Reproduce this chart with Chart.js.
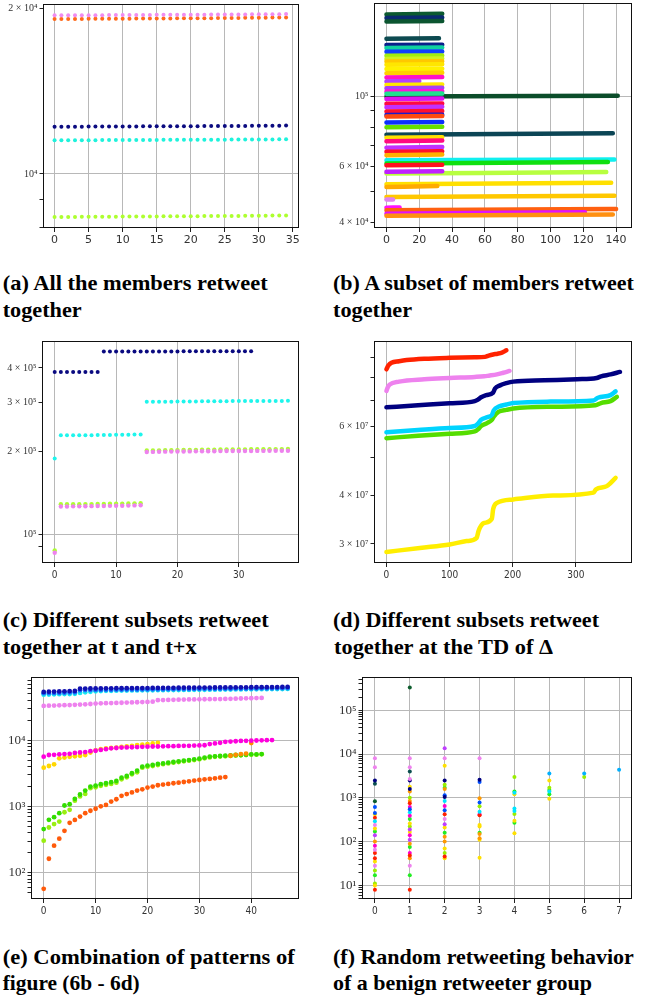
<!DOCTYPE html>
<html><head><meta charset="utf-8">
<script src="https://cdn.jsdelivr.net/npm/chart.js@4.4.1/dist/chart.umd.min.js"></script>
<style>
html,body{margin:0;padding:0;background:#fff;}
#wrap{position:relative;width:650px;height:997px;overflow:hidden;background:#fff;}
canvas{position:absolute;}
svg{position:absolute;left:0;top:0;}
.cap{font-family:'Liberation Serif','DejaVu Serif',serif;font-weight:bold;font-size:22px;fill:#000;}
</style></head><body><div id="wrap">
<svg width="650" height="997">
<text class="cap" x="2.7" y="290" textLength="265" lengthAdjust="spacingAndGlyphs">(a) All the members retweet</text>
<text class="cap" x="2.7" y="316.5" textLength="79" lengthAdjust="spacingAndGlyphs">together</text>
<text class="cap" x="333" y="290">(b) A subset of members retweet</text>
<text class="cap" x="333" y="316.5" textLength="79" lengthAdjust="spacingAndGlyphs">together</text>
<text class="cap" x="2.7" y="626.5" textLength="266" lengthAdjust="spacingAndGlyphs">(c) Different subsets retweet</text>
<text class="cap" x="2.7" y="654" textLength="194" lengthAdjust="spacingAndGlyphs">together at t and t+x</text>
<text class="cap" x="333" y="626.5" textLength="266" lengthAdjust="spacingAndGlyphs">(d) Different subsets retweet</text>
<text class="cap" x="334" y="654" textLength="219" lengthAdjust="spacingAndGlyphs">together at the TD of Δ</text>
<text class="cap" x="2.7" y="964" textLength="292" lengthAdjust="spacingAndGlyphs">(e) Combination of patterns of</text>
<text class="cap" x="2.7" y="990" textLength="137" lengthAdjust="spacingAndGlyphs">figure (6b - 6d)</text>
<text class="cap" x="333" y="964">(f) Random retweeting behavior</text>
<text class="cap" x="333" y="990">of a benign retweeter group</text>
</svg>
<canvas id="ca"></canvas><canvas id="cb"></canvas>
<canvas id="cc"></canvas><canvas id="cd"></canvas>
<canvas id="ce"></canvas><canvas id="cf"></canvas>
</div>
<script>
// ---------- Panel (a) data ----------
const aXTicks = [0,5,10,15,20,25,30,35];
const aYTickValues = [8000, 9000, 10000, 20000];
const aYTickLabels = ['', '', '10⁴', '2 × 10⁴'];
const aYGrid = [10000];
const aViolet = [19400,19400,19405,19405,19410,19410,19415,19415,19420,19420,19425,19425,19430,19430,19435,19440,19440,19445,19445,19450,19450,19455,19455,19460,19460,19465,19470,19470,19475,19480,19480,19485,19490,19495,19500];
const aOrange = [19100,19100,19105,19110,19110,19115,19115,19120,19120,19125,19130,19130,19135,19140,19140,19145,19150,19150,19155,19160,19160,19165,19170,19170,19175,19180,19185,19190,19195,19200,19205,19210,19215,19220,19230];
const aNavy = [12180,12182,12184,12185,12187,12188,12190,12191,12193,12194,12196,12197,12199,12200,12202,12203,12205,12206,12208,12209,12211,12212,12214,12215,12217,12218,12220,12222,12224,12226,12228,12230,12233,12236,12240];
const aCyan = [11510,11511,11512,11514,11515,11516,11518,11519,11520,11522,11523,11524,11526,11527,11528,11530,11531,11532,11534,11535,11536,11538,11539,11540,11542,11543,11545,11546,11548,11549,11551,11553,11555,11557,11560];
const aLime = [8354,8355,8357,8358,8360,8361,8363,8364,8366,8367,8369,8370,8372,8373,8375,8376,8378,8379,8381,8382,8384,8385,8387,8388,8390,8391,8393,8394,8396,8398,8400,8402,8404,8407,8410];

// ---------- Panel (b) data: value at x=0, value at last x, last x ----------
const bXTicks = [0,20,40,60,80,100,120,140];
const bYTickValues = [40000,50000,60000,70000,80000,90000,100000];
const bYTickLabels = ['4 × 10⁴','','6 × 10⁴','','','','10⁵'];
const bYGrid = [100000];
const bFirst = [100000,182000,177600,172900,152600,145700,142600,138800,134700,131500,129200,126100,122200,118600,114900,111600,108900,106300,103700,102000,98300,94800,92500,89600,87400,86400,82700,79900,75700,74000,72200,68800,66800,65200,62800,61300,60600,57000,57700,52700,51700,48000,47200,44400,43600,42500,41900];
const bLast  = [100500,183000,178000,173500,153000,146000,143000,139000,135000,132000,129500,126500,122600,119000,115300,112000,109300,106700,104000,102300,98600,95100,92800,90000,87600,86700,83000,80200,76500,74300,72500,69200,67100,65500,63200,62000,60800,57600,58000,53300,52000,48500,47200,44500,44000,43000,42300];
const bLastX = [141,34,34,34,32,34,34,34,34,34,34,34,34,34,34,20,34,34,34,34,34,34,34,34,34,34,34,34,138,34,34,34,34,34,139,135,34,134,34,137,31,139,4,8,140,121,138];
const bColors = ['#0b4d2a','#0c5a30','#0a2a70','#0b5530','#0d4a50','#0a1f8a','#10d0a0','#1040ff','#a0ee10','#d0f020','#ffc800','#ffe600','#fff000','#ffd000','#ff10c8','#b040ff','#ffe800','#a840f8','#ff10d8','#20e090','#e010f0','#ff0a40','#c030ff','#ff1030','#1a1ad0','#ff4a10','#0a30ff','#66e000','#0b4555','#ffe000','#ff0a80','#c030ff','#ff1028','#ffb000','#10f0f0','#10e010','#ff1020','#b8ff40','#c020ff','#ffe000','#ffaa00','#ffc800','#e080f0','#ff10ff','#ff6010','#e010ff','#ff9010'];

// ---------- Panel (c) data ----------
const cXTicks = [0,10,20,30];
const cYTickValues = [90000,100000,200000,300000,400000];
const cYTickLabels = ['','10⁵','2 × 10⁵','3 × 10⁵','4 × 10⁵'];
const cYGrid = [100000];
const cNavy = [387000,387000,387000,387000,387000,387000,387000,387000,459000,459000,459000,459000,459000,459000,459000,459000,459000,459000,459000,459000,459000,460000,460000,460000,460000,460000,460000,460000,460000,460000,460000,460000,460000];
const cCyan = [188000,228000,228000,228000,228000,228000,228000,228500,228500,228500,229000,229000,229000,229500,229500,302000,302000,302000,302000,302000,302500,302500,302500,302500,303000,303000,303000,303000,303000,303500,303500,303500,303500,304000,304000,304000,304000,304000,304500];
const cLime = [87300,128300,128300,128400,128400,128500,128500,128600,128700,128800,128900,129000,129100,129300,129500,201000,201000,201200,201300,201500,201600,201800,201900,202000,202200,202300,202400,202500,202600,202700,202800,202900,203000,203000,203100,203200,203300,203300,203400];
const cViolet = [85600,126000,126000,126100,126100,126200,126300,126400,126500,126600,126700,126800,126900,127100,127300,198500,198600,198800,199000,199100,199200,199300,199400,199500,199600,199700,199800,199900,200000,200000,200100,200200,200200,200300,200300,200400,200400,200500,200500];

// ---------- Panel (d) data: [x, value] ----------
const dXTicks = [0,100,200,300];
const dYTickValues = [30000000,40000000,50000000,60000000,70000000,80000000,90000000];
const dYTickLabels = ['3 × 10⁷','4 × 10⁷','','6 × 10⁷','','',''];
const dYGrid = [];
const dYellow = [[0,2.86e7],[53,2.93e7],[100,2.99e7],[127,3.05e7],[143,3.11e7],[146,3.24e7],[154,3.39e7],[167,3.48e7],[169,3.68e7],[175,3.82e7],[201,3.9e7],[264,3.99e7],[328,4.06e7],[332,4.14e7],[349,4.22e7],[363,4.43e7]];
const dGreen = [[0,5.6e7],[50,5.68e7],[100,5.75e7],[140,5.83e7],[145,5.9e7],[150,6.02e7],[160,6.13e7],[167,6.24e7],[170,6.36e7],[178,6.55e7],[190,6.62e7],[201,6.67e7],[260,6.74e7],[331,6.8e7],[340,6.89e7],[355,6.97e7],[365,7.15e7]];
const dCyan = [[0,5.8e7],[50,5.88e7],[100,5.95e7],[140,6.02e7],[145,6.1e7],[150,6.24e7],[160,6.34e7],[167,6.42e7],[170,6.6e7],[178,6.75e7],[190,6.83e7],[201,6.89e7],[260,6.95e7],[328,7.0e7],[335,7.11e7],[355,7.22e7],[363,7.38e7]];
const dNavy = [[0,6.72e7],[50,6.8e7],[100,6.88e7],[140,6.97e7],[145,7.03e7],[150,7.13e7],[158,7.22e7],[169,7.33e7],[172,7.51e7],[180,7.65e7],[190,7.75e7],[201,7.82e7],[250,7.88e7],[302,7.93e7],[333,7.99e7],[340,8.07e7],[355,8.16e7],[370,8.28e7]];
const dViolet = [[0,7.4e7],[2,7.55e7],[5,7.68e7],[20,7.82e7],[60,7.93e7],[100,7.99e7],[140,8.04e7],[155,8.07e7],[162,8.1e7],[175,8.16e7],[185,8.24e7],[195,8.33e7]];
const dRed = [[0,8.41e7],[3,8.6e7],[8,8.74e7],[20,8.82e7],[32,8.88e7],[60,8.95e7],[100,9.0e7],[140,9.03e7],[156,9.05e7],[162,9.12e7],[169,9.18e7],[176,9.22e7],[183,9.28e7],[190,9.41e7]];

// ---------- Panel (e) data ----------
const eXTicks = [0,10,20,30,40];
const eYTickValues = [50,60,70,80,90,100,200,300,400,500,600,700,800,900,1000,2000,3000,4000,5000,6000,7000,8000,9000,10000,20000,30000,40000,50000,60000,70000,80000];
const eYTickLabels = ['','','','','','10²','','','','','','','','','10³','','','','','','','','','10⁴','','','','','','',''];
const eYGrid = [100,1000,10000];
const eOrangeRed = [57,162,255,325,428,565,625,700,790,858,920,1000,1050,1180,1280,1440,1530,1620,1730,1810,1920,1990,2080,2130,2180,2230,2280,2330,2390,2450,2500,2560,2590,2650,2710,2770];
const eLime = [303,480,540,590,815,885,1220,1410,1540,1880,1940,2040,2110,2180,2280,2560,2750,3050,3260,3840,3970,4060,4200,4330,4450,4560,4670,4780,4890,5000,5120,5300,5480,5600,5650,5700,5760,5820,5880,5950,6020,6020,6090];
const eGreen = [454,626,686,790,1030,1080,1300,1510,1730,1990,2060,2160,2230,2320,2420,2710,2870,3160,3460,3970,4120,4210,4360,4450,4560,4670,4780,4890,5000,5120,5240,5420,5620,5690,5750,5820,5890,5950,5950,6020,6090,6090,6160];
const eOrangeX = [36,37,38,39,40];
const eOrange = [5800,6000,6150,6250,9000];
const eGold = [3840,4060,4300,5300,5450,5600,5700,5800,5950,6500,7000,7300,7500,7600,7700,7900,8000,8200,8400,8500,8700,8900,9100];
const eMagenta = [5620,5950,6000,6100,6150,6200,6400,6500,6600,6800,6900,7100,7300,7500,7600,7700,7750,7800,7850,7900,7950,8000,8000,8050,8100,8100,8150,8200,8200,8250,8300,8350,8700,8900,9100,9400,9500,9600,9700,9750,9800,9850,9900,9950,10000];
const eViolet = [32800,33000,33200,33400,33600,33800,34000,34300,34600,35000,35600,35800,36000,36200,36400,36600,36800,37000,37200,37400,37700,38000,40000,40200,40400,40500,40700,40800,41000,41100,41200,41300,41400,41500,41600,41800,42000,42200,42400,42600,42800,43000,43300];
const eCyan = [48500,48700,49000,49200,49400,49600,49800,51500,52500,53500,54500,55000,55300,55500,55700,55800,56000,56100,56200,56300,56400,56500,56600,56700,56800,56900,57000,57100,57200,57300,57400,57500,57600,57700,57800,57900,58000,58100,58200,58300,58400,58500,58600,58700,58800,58900,59000,59200];
const eBlue = [51000,51300,51500,51700,52000,52300,52600,56500,56800,57000,57100,57200,57400,57500,57600,57700,57800,57900,58000,58100,58200,58300,58400,58500,58600,58700,58800,58900,59000,59100,59200,59300,59400,59500,59600,59600,59700,59800,59900,60000,60100,60200,60300,60400,60500,60600,60700,60900];
const eNavy = [53300,53800,54000,54200,54500,54800,55200,59500,59800,60000,60100,60100,60300,60400,60500,60500,60700,60800,60900,61000,61000,61200,61300,61300,61400,61500,61600,61700,61700,61800,61900,62000,62000,62100,62200,62300,62300,62400,62500,62600,62700,62700,62800,62900,63000,63100,63200,63400];

// ---------- Panel (f) data: [x, value] by colour group ----------
const fXTicks = [0,1,2,3,4,5,6,7];
const fYTickValues = [5,6,7,8,9,10,20,30,40,50,60,70,80,90,100,200,300,400,500,600,700,800,900,1000,2000,3000,4000,5000,6000,7000,8000,9000,10000,20000,30000,40000,50000,60000,70000,80000,90000,100000,200000,300000,400000,500000];
const fYTickLabels = ['','','','','','10¹','','','','','','','','','10²','','','','','','','','','10³','','','','','','','','','10⁴','','','','','','','','','10⁵','','','',''];
const fYGrid = [10,100,1000,10000,100000];
const fViolet = [[0,8000],[0,5000],[0,240],[0,65],[0,28],[1,8000],[1,5000],[1,2700],[1,28],[2,8000],[2,330],[3,8000]];
const fPurple = [[0,140],[1,190],[1,110],[2,13500],[2,250]];
const fNavy = [[0,2500],[1,2500],[1,1600],[2,2500],[2,1050],[3,2600]];
const fDarkTeal = [[0,2100],[1,4000]];
const fDarkGreen = [[0,830],[1,330000]];
const fBlue = [[0,620],[0,450],[1,550],[2,1150],[2,520],[3,2300],[3,780]];
const fSky = [[5,3600],[6,3600],[7,4400]];
const fCyan = [[0,290],[1,470],[2,850],[3,480],[4,1300],[4,570],[4,500],[5,1400]];
const fRed = [[0,350],[0,55],[0,42],[0,8],[1,750],[1,48],[1,8],[2,420],[2,46],[3,400]];
const fMagenta = [[0,80],[1,620],[1,390],[1,140],[1,55],[2,650],[3,420]];
const fOrange = [[0,100],[1,1400],[1,850],[1,90],[1,42],[2,1600],[2,130],[2,100],[3,980],[3,150],[3,120]];
const fYellow = [[0,420],[0,200],[0,35],[0,10],[1,1800],[1,260],[1,165],[2,5400],[2,210],[2,70],[2,42],[3,240],[3,220],[3,110],[3,43],[4,1200],[4,300],[4,155],[5,2500],[5,950]];
const fLime = [[0,22],[0,11],[1,1000],[1,220],[2,2000],[2,55],[3,640],[4,3000],[4,430],[5,1700],[6,3000]];
const fGreen = [[0,170],[0,17],[1,330],[1,75],[1,17],[2,1700],[2,160],[3,160],[4,1400],[4,270],[5,1500],[5,1200]];

// ---------- helpers ----------
const seqPts = (ys, x0) => ys.map((y, i) => ({x: (x0 || 0) + i, y}));
const pairPts = arr => arr.map(p => ({x: p[0], y: p[1]}));
const zipPts = (xs, ys) => xs.map((x, i) => ({x, y: ys[i]}));
const dots = (pts, color, r) => ({data: pts, showLine: false, pointRadius: r, pointHoverRadius: r,
  pointBackgroundColor: color, pointBorderWidth: 0, backgroundColor: color});
const line = (pts, color, w) => ({data: pts, showLine: true, borderColor: color, borderWidth: w,
  pointRadius: 0, pointHoverRadius: 0, borderCapStyle: 'round', borderJoinStyle: 'round',
  cubicInterpolationMode: 'monotone'});

const frame = {id: 'frame', afterDraw(ch) {
  const a = ch.chartArea, c = ch.ctx;
  c.save(); c.strokeStyle = '#111'; c.lineWidth = 1;
  c.strokeRect(Math.round(a.left) + 0.5, Math.round(a.top) + 0.5,
    Math.round(a.right - a.left) - 1, Math.round(a.bottom - a.top) - 1);
  c.restore();
}};

const FX_A = {family: "'DejaVu Sans', sans-serif", size: 11};
const FX_N = {family: "'Liberation Sans Narrow','DejaVu Sans Condensed','Liberation Sans',sans-serif", size: 10};
const FY_S = {family: "'Liberation Serif','DejaVu Serif',serif", size: 10};
const FY_L = {family: "'Liberation Serif','DejaVu Serif',serif", size: 13};

function panel(id, box, yW, xH, xMin, xMax, xTicks, xFont, yMin, yMax, yVals, yLabs, yGrid, yFont, datasets) {
  const pt = 3, pr = 3;
  const cv = document.getElementById(id);
  const W = yW + (box.r - box.l) + pr, H = pt + (box.b - box.t) + xH;
  cv.width = W; cv.height = H;
  cv.style.left = (box.l - yW) + 'px'; cv.style.top = (box.t - pt) + 'px';
  cv.style.width = W + 'px'; cv.style.height = H + 'px';
  datasets.forEach((d, i) => { d.order = -i; });
  const gridCol = c => (c.tick && c.tick.g) ? '#b8b8b8' : 'rgba(0,0,0,0)';
  new Chart(cv, {
    type: 'scatter',
    data: {datasets},
    options: {
      responsive: false, animation: false, devicePixelRatio: 1,
      layout: {autoPadding: false, padding: {top: pt, right: pr, left: 0, bottom: 0}},
      plugins: {legend: {display: false}, tooltip: {enabled: false}},
      scales: {
        x: {type: 'linear', min: xMin, max: xMax, bounds: 'data',
          border: {display: false},
          grid: {color: gridCol, lineWidth: 1, tickColor: '#222', tickLength: 4, drawTicks: true},
          ticks: {font: xFont, color: '#333', padding: 2, autoSkip: false, maxRotation: 0,
            callback: (v, i, t) => t[i].lab || ''},
          afterBuildTicks: s => { s.ticks = xTicks.map(v => ({value: v, g: true, lab: String(v)})); },
          afterFit: s => { s.height = xH; s.paddingLeft = 0; s.paddingRight = 0; }
        },
        y: {type: 'logarithmic', min: yMin, max: yMax, bounds: 'data',
          border: {display: false},
          grid: {color: gridCol, lineWidth: 1, tickColor: '#222', tickLength: 3.5, drawTicks: true},
          ticks: {font: yFont, color: '#333', padding: 2, autoSkip: false,
            callback: (v, i, t) => t[i].lab || ''},
          afterBuildTicks: s => { s.ticks = yVals.map((v, i) => ({value: v, g: yGrid.includes(v), lab: yLabs[i]})); },
          afterFit: s => { s.width = yW; s.paddingTop = 0; s.paddingBottom = 0; }
        }
      }
    },
    plugins: [frame]
  });
}

// (a)
panel('ca', {l: 43, r: 299, t: 4, b: 228}, 43, 22, -1.7, 35.9, aXTicks, FX_A, 7980, 20340,
  aYTickValues, aYTickLabels, aYGrid, FY_S, [
    dots(seqPts(aLime), '#adff2f', 2),
    dots(seqPts(aCyan), '#1ef2dc', 2),
    dots(seqPts(aNavy), '#0b0b80', 2),
    dots(seqPts(aOrange), '#ff6a1a', 2),
    dots(seqPts(aViolet), '#f08cf0', 2)
  ]);

// (b)
panel('cb', {l: 374, r: 632, t: 3, b: 228}, 44, 22, -7.6, 149.7, bXTicks, FX_A, 38300, 198000,
  bYTickValues, bYTickLabels, bYGrid, FY_S,
  bFirst.map((v, i) => line([{x: 0, y: v}, {x: bLastX[i], y: bLast[i]}], bColors[i], 4.5)));

// (c)
panel('cc', {l: 42, r: 299, t: 341, b: 563}, 42, 22, -2.07, 39.8, cXTicks, FX_N, 78600, 501000,
  cYTickValues, cYTickLabels, cYGrid, FY_S, [
    dots(seqPts(cNavy), '#0a0a80', 2),
    dots(seqPts(cCyan), '#1ef5ec', 2),
    dots(seqPts(cLime), '#adff2f', 2.2),
    dots(seqPts(cViolet), '#ee82ee', 2.2)
  ]);

// (d)
panel('cd', {l: 374, r: 632, t: 341, b: 563}, 44, 22, -19.7, 389, dXTicks, FX_N, 2.68e7, 9.94e7,
  dYTickValues, dYTickLabels, dYGrid, FY_S, [
    line(pairPts(dYellow), '#ffee00', 4.5),
    line(pairPts(dGreen), '#55dd00', 4.5),
    line(pairPts(dCyan), '#00d4ff', 4.5),
    line(pairPts(dNavy), '#000080', 4.5),
    line(pairPts(dViolet), '#ee82ee', 4.5),
    line(pairPts(dRed), '#ff2200', 4.5)
  ]);

// (e)
panel('ce', {l: 31, r: 299, t: 677, b: 899}, 31, 22, -2.45, 49.2, eXTicks, FX_N, 40, 89500,
  eYTickValues, eYTickLabels, eYGrid, FY_L, [
    dots(seqPts(eOrangeRed), '#ff5a0a', 2.4),
    dots(seqPts(eLime), '#99ee11', 2.4),
    dots(seqPts(eGreen), '#33dd00', 2.4),
    dots(zipPts(eOrangeX, eOrange), '#ff8c00', 2.4),
    dots(seqPts(eGold), '#ffd700', 2.4),
    dots(seqPts(eMagenta), '#ff00dd', 2.4),
    dots(seqPts(eViolet), '#ee82ee', 2.4),
    dots(seqPts(eCyan), '#18e8f0', 2.4),
    dots(seqPts(eBlue), '#1a6cff', 2.4),
    dots(seqPts(eNavy), '#1010b0', 2.4)
  ]);

// (f)
panel('cf', {l: 362, r: 632, t: 677, b: 899}, 40, 22, -0.37, 7.37, fXTicks, FX_N, 4.9, 573000,
  fYTickValues, fYTickLabels, fYGrid, FY_L, [
    dots(pairPts(fGreen), '#22ee22', 2),
    dots(pairPts(fLime), '#99ee00', 2),
    dots(pairPts(fYellow), '#ffe000', 2),
    dots(pairPts(fOrange), '#ff9900', 2),
    dots(pairPts(fMagenta), '#ff00cc', 2),
    dots(pairPts(fRed), '#ff2000', 2),
    dots(pairPts(fCyan), '#00e5ff', 2),
    dots(pairPts(fSky), '#00b0ff', 2),
    dots(pairPts(fBlue), '#0050ff', 2),
    dots(pairPts(fDarkGreen), '#0d5d2d', 2),
    dots(pairPts(fDarkTeal), '#0b4f4f', 2),
    dots(pairPts(fNavy), '#000080', 2),
    dots(pairPts(fPurple), '#bf3eff', 2),
    dots(pairPts(fViolet), '#ee82ee', 2)
  ]);
</script>
</body></html>
